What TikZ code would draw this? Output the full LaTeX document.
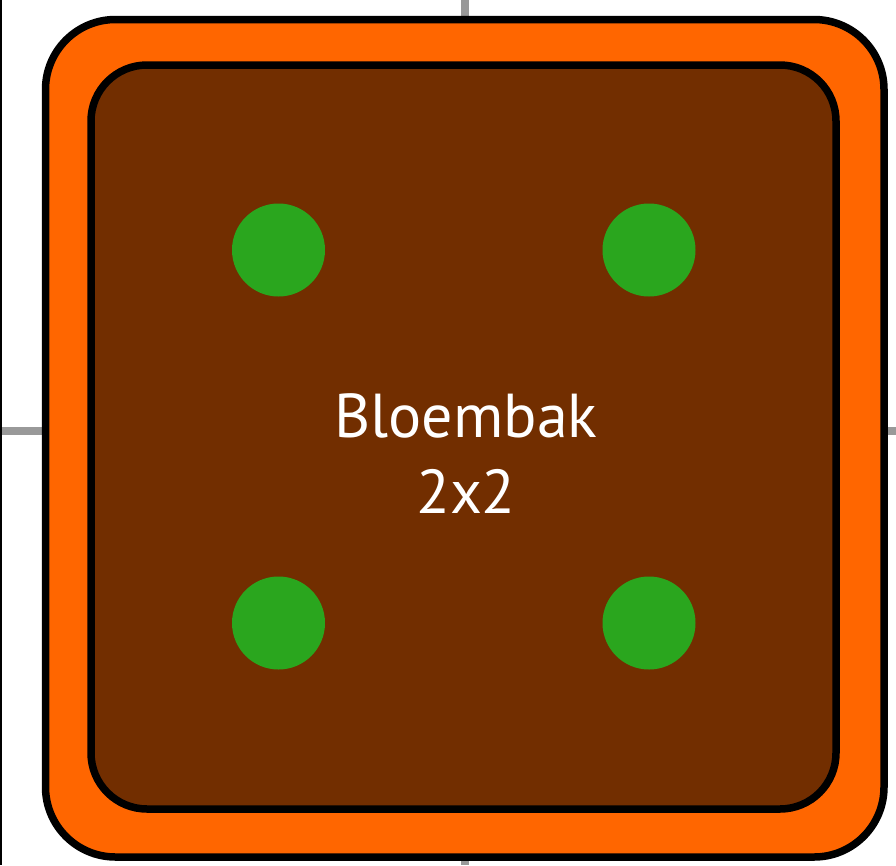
\documentclass[tikz,border=0pt]{standalone}
\usepackage{fontspec}
\setmainfont{PT Sans}
\definecolor{boxorange}{HTML}{FF6600}
\definecolor{soilbrown}{HTML}{722E00}
\definecolor{plantgreen}{HTML}{2AA61E}
\definecolor{gridgray}{HTML}{999999}
\begin{document}
\begin{tikzpicture}[x=1pt,y=-1pt,
  gridline/.style={draw=gridgray,line width=8pt},
  frame/.style={draw=black,line width=7.5pt},
  plant/.style={circle,fill=plantgreen,minimum size=93pt,inner sep=0pt}]
\useasboundingbox (0,0) rectangle (896,865);
% grid lines
\draw[black,line width=2pt] (1,0) -- (1,865);
\draw[gridline] (465,0) -- (465,20);
\draw[gridline] (465,850) -- (465,865);
\draw[gridline] (2,431) -- (46,431);
\draw[gridline] (882,431) -- (896,431);
% outer box
\draw[frame,fill=boxorange,rounded corners=70pt] (45.5,19.5) rectangle (884,857);
% inner soil
\draw[frame,fill=soilbrown,rounded corners=56pt] (91,65) rectangle (836,809);
% plants
\node[plant] (p1) at (278.5,250) {};
\node[plant] (p2) at (649,250) {};
\node[plant] (p3) at (278.5,623) {};
\node[plant] (p4) at (649,623) {};
% label
\node[text=white,align=center,font=\fontsize{62}{76}\selectfont,anchor=base] (lbl) at (466,513) {Bloembak\\2x2};
\end{tikzpicture}
\end{document}
